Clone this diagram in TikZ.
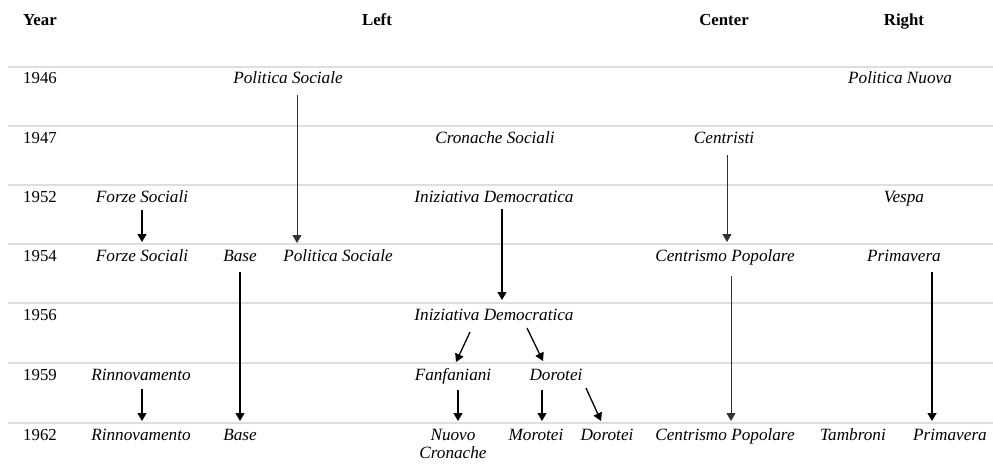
\documentclass[tikz,border=0pt]{standalone}
\usepackage{fontspec}
\setmainfont{Liberation Serif}
\usetikzlibrary{arrows.meta}
\begin{document}
\begin{tikzpicture}[x=1pt,y=-1pt,
  lbl/.style={inner sep=0pt,anchor=base,font=\fontsize{17.2}{19}\selectfont\itshape},
  yr/.style={inner sep=0pt,anchor=base,font=\fontsize{16.8}{19}\selectfont},
  hd/.style={inner sep=0pt,anchor=base,font=\fontsize{16.8}{19}\selectfont\bfseries},
  rule/.style={draw=black!13,line width=1.3pt},
  arr/.style={draw=black,line width=1.3pt,-{Triangle[length=8pt,width=9pt]}},
  tarr/.style={draw=black!80,line width=1pt,-{Triangle[length=8pt,width=9pt]}}]
\useasboundingbox (0,0) rectangle (993,466);
% rules
\foreach \yy in {67,126,185,244,303,363,423} \draw[rule] (8,\yy) -- (993,\yy);
% header
\node[hd] (hyear) at (40,25) {Year};
\node[hd] (hleft) at (377,25) {Left};
\node[hd] (hcenter) at (724,25) {Center};
\node[hd] (hright) at (904,25) {Right};
% years
\node[yr] (y46) at (40,83) {1946};
\node[yr] (y47) at (40,143) {1947};
\node[yr] (y52) at (40,202) {1952};
\node[yr] (y54) at (40,261) {1954};
\node[yr] (y56) at (40,320) {1956};
\node[yr] (y59) at (40,380) {1959};
\node[yr] (y62) at (40,440) {1962};
% 1946
\node[lbl] (ps46) at (288,83) {Politica Sociale};
\node[lbl] (pn46) at (900,83) {Politica Nuova};
% 1947
\node[lbl] (cs47) at (495,143) {Cronache Sociali};
\node[lbl] (ce47) at (724,143) {Centristi};
% 1952
\node[lbl] (fs52) at (142,202) {Forze Sociali};
\node[lbl] (id52) at (494,202) {Iniziativa Democratica};
\node[lbl] (ve52) at (904,202) {Vespa};
% 1954
\node[lbl] (fs54) at (142,261) {Forze Sociali};
\node[lbl] (ba54) at (240,261) {Base};
\node[lbl] (ps54) at (338,261) {Politica Sociale};
\node[lbl] (cp54) at (725,261) {Centrismo Popolare};
\node[lbl] (pr54) at (904,261) {Primavera};
% 1956
\node[lbl] (id56) at (494,320) {Iniziativa Democratica};
% 1959
\node[lbl] (ri59) at (141,380) {Rinnovamento};
\node[lbl] (fa59) at (453,380) {Fanfaniani};
\node[lbl] (do59) at (556,380) {Dorotei};
% 1962
\node[lbl] (ri62) at (141,440) {Rinnovamento};
\node[lbl] (ba62) at (240,440) {Base};
\node[lbl,align=center] (nc62) at (453,458) {Nuovo\\[-1pt]Cronache};
\node[lbl] (mo62) at (536,440) {Morotei};
\node[lbl] (do62) at (607,440) {Dorotei};
\node[lbl] (cp62) at (725,440) {Centrismo Popolare};
\node[lbl] (ta62) at (853,440) {Tambroni};
\node[lbl] (pr62) at (950,440) {Primavera};
% arrow end points
\coordinate (a1s) at (297,95);  \coordinate (a1e) at (297,243);
\coordinate (a2s) at (142,210); \coordinate (a2e) at (142,242);
\coordinate (a3s) at (502,209); \coordinate (a3e) at (502,300);
\coordinate (a4s) at (727,155); \coordinate (a4e) at (727,242);
\coordinate (a5s) at (240,272); \coordinate (a5e) at (240,421);
\coordinate (a6s) at (731,276); \coordinate (a6e) at (731,421);
\coordinate (a7s) at (932,272); \coordinate (a7e) at (932,421);
\coordinate (a8s) at (142,389); \coordinate (a8e) at (142,421);
\coordinate (a9s) at (470,332); \coordinate (a9e) at (456,362);
\coordinate (a10s) at (527,328); \coordinate (a10e) at (543,361);
\coordinate (a11s) at (458,390); \coordinate (a11e) at (458,421);
\coordinate (a12s) at (542,390); \coordinate (a12e) at (542,421);
\coordinate (a13s) at (586,388); \coordinate (a13e) at (601,421);
% arrows
\draw[tarr] (a1s) -- (a1e);
\draw[arr] (a2s) -- (a2e);
\draw[arr] (a3s) -- (a3e);
\draw[tarr] (a4s) -- (a4e);
\draw[arr] (a5s) -- (a5e);
\draw[tarr] (a6s) -- (a6e);
\draw[arr] (a7s) -- (a7e);
\draw[arr] (a8s) -- (a8e);
\draw[arr] (a9s) -- (a9e);
\draw[arr] (a10s) -- (a10e);
\draw[arr] (a11s) -- (a11e);
\draw[arr] (a12s) -- (a12e);
\draw[arr] (a13s) -- (a13e);
\end{tikzpicture}
\end{document}
